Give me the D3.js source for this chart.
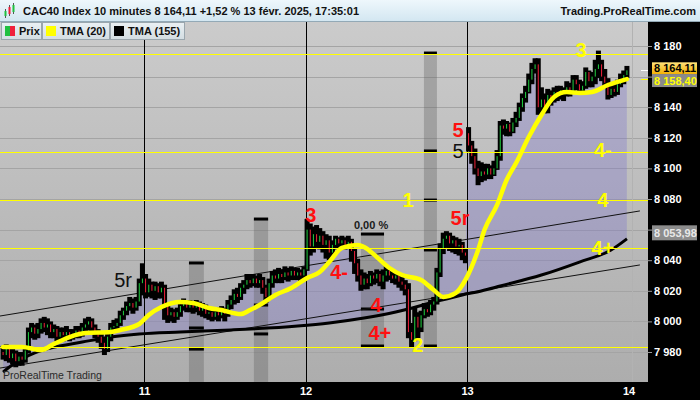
<!DOCTYPE html>
<html><head><meta charset="utf-8">
<script src="https://cdn.jsdelivr.net/npm/d3@7"></script>
<style>body{margin:0;background:#fff;}svg{display:block;font-family:"Liberation Sans",Arial,sans-serif;}</style>
</head><body><svg id="c" width="700" height="400"></svg>
<script>
// ---------- DATA ----------
const dayLabels = ["11","12","13","14"];
const dayStarts = [44.5, 95.5, 146.5, 197.5];
const opens = [
7980,7978,7982,7976,7979,7974,7977,7975,7981,7993,7996,7992,7995,7999,7996,7998,7993,7995,7990,7993,7991,7993,7990,7992,7994,7992,7996,7998,8000,7996,7993,7990,7986,7982,7990,7996,7997,7999,8004,8007,8010,8012,8009,8013,8025,
8028,8019,8024,8020,8023,8019,8022,8010,8004,8006,8003,8006,8010,8012,8009,8011,8009,8011,8007,8009,8005,8006,8003,8006,8004,8007,8005,8011,8014,8018,8016,8022,8024,8027,8025,8028,8025,8027,8022,8016,8025,8030,8028,8031,8029,8032,8030,8033,8030,8032,8030,
8034,8060,8049,8057,8052,8056,8050,8053,8045,8050,8054,8051,8053,8050,8052,8046,8038,8030,8024,8028,8025,8030,8028,8031,8026,8030,8033,8030,8028,8030,8026,8024,8021,7993,7988,8003,7996,8004,8008,8006,8011,8013,8032,8048,8054,8056,8051,8053,8049,8050,8045,
8123,8115,8108,8100,8095,8098,8096,8100,8096,8100,8108,8128,8126,8129,8124,8130,8133,8140,8146,8150,8158,8165,8168,8140,8145,8140,8148,8146,8150,8148,8151,8149,8153,8150,8158,8155,8151,8154,8163,8157,8160,8165,8168,8160,8156,8148,8152,8150,8155,8158,8161];
const closes = [
7978,7982,7976,7979,7974,7977,7975,7981,7993,7996,7992,7995,7999,7996,7998,7993,7995,7990,7993,7991,7993,7990,7992,7994,7992,7996,7998,8000,7996,7993,7990,7986,7982,7990,7996,7997,7999,8004,8007,8010,8012,8009,8013,8025,8028,
8019,8024,8020,8023,8019,8022,8010,8004,8006,8003,8006,8010,8012,8009,8011,8009,8011,8007,8009,8005,8006,8003,8006,8004,8007,8005,8011,8014,8018,8016,8022,8024,8027,8025,8028,8025,8027,8022,8016,8025,8030,8028,8031,8029,8032,8030,8033,8030,8032,8030,8034,
8060,8049,8057,8052,8056,8050,8053,8045,8050,8054,8051,8053,8050,8052,8046,8038,8030,8024,8028,8025,8030,8028,8031,8026,8030,8033,8030,8028,8030,8026,8024,8021,7993,7988,8003,7996,8004,8008,8006,8011,8013,8032,8048,8054,8056,8051,8053,8049,8050,8045,8043,
8115,8108,8100,8095,8098,8096,8100,8096,8100,8108,8128,8126,8129,8124,8130,8133,8140,8146,8150,8158,8165,8168,8140,8145,8140,8148,8146,8150,8148,8151,8149,8153,8150,8158,8155,8151,8154,8163,8157,8160,8165,8168,8160,8156,8148,8152,8150,8155,8158,8161,8164.11];
const highs = [
7983,7984,7983,7981,7980,7979,7979,7983,7995,7998,7997,7998,8001,8002,8001,7999,7997,7996,7995,7995,7996,7994,7994,7996,7996,7998,8001,8002,8001,7997,7994,7991,7988,7992,7998,8000,8001,8006,8008,8012,8015,8014,8015,8027,8037,
8030,8027,8025,8025,8024,8025,8023,8011,8008,8007,8008,8012,8014,8013,8013,8012,8013,8012,8011,8010,8008,8007,8008,8008,8009,8008,8013,8016,8020,8021,8024,8026,8030,8030,8030,8029,8030,8028,8023,8027,8032,8033,8034,8033,8035,8034,8035,8034,8034,8033,8035,
8066,8063,8061,8062,8060,8058,8056,8055,8052,8055,8054,8055,8054,8055,8053,8047,8040,8033,8031,8030,8032,8031,8033,8032,8033,8035,8034,8032,8032,8030,8028,8026,8024,7998,8008,8005,8006,8011,8010,8013,8015,8034,8050,8057,8058,8057,8055,8054,8053,8051,8047,
8126,8117,8112,8104,8103,8102,8102,8101,8104,8111,8130,8131,8130,8129,8132,8136,8142,8148,8153,8161,8168,8171,8171,8152,8148,8151,8150,8152,8153,8153,8152,8156,8155,8160,8160,8157,8156,8165,8163,8162,8170,8176,8170,8164,8158,8154,8155,8157,8161,8163,8166];
const lows = [
7976,7975,7974,7973,7971,7972,7972,7974,7980,7990,7989,7990,7993,7994,7992,7990,7990,7988,7989,7988,7990,7988,7989,7990,7990,7991,7994,7995,7993,7990,7987,7983,7979,7981,7988,7994,7995,7998,8002,8005,8008,8006,8008,8011,8018,
8016,8017,8016,8015,8016,8016,8002,8000,8001,8000,8002,8004,8008,8007,8007,8006,8007,8005,8004,8003,8002,8001,8002,8001,8003,8001,8004,8009,8012,8013,8015,8019,8022,8023,8024,8023,8023,8019,8013,8015,8023,8026,8026,8026,8028,8027,8028,8028,8028,8027,8029,
8034,8044,8046,8049,8048,8046,8042,8041,8043,8048,8049,8050,8048,8049,8040,8032,8027,8021,8022,8022,8024,8025,8026,8024,8022,8027,8028,8026,8025,8023,8021,8018,7990,7984,7990,7990,7994,8003,8004,8005,8008,8012,8030,8045,8049,8047,8046,8045,8044,8041,8039,
8112,8104,8097,8090,8092,8093,8094,8094,8097,8100,8106,8123,8122,8122,8124,8128,8132,8138,8144,8152,8156,8163,8136,8138,8137,8137,8142,8144,8145,8146,8145,8148,8148,8150,8152,8149,8149,8153,8154,8154,8156,8160,8158,8154,8146,8147,8148,8149,8154,8156,8160];

// TMA(20), read at sampled bars
const tma20Slots = [0,6,12,16,21,26,34,37,43,46,50,56,60,65,69,75,78,81,86,91,96,100,103,107,112,114,118,122,126,132,136,139,143,146,150,152,156,159,162,166,170,174,178,182,186,191,197];
const tma20Vals  = [7983.3,7983.3,7981.3,7985.2,7989.8,7992.4,7993.1,7994.4,7998.3,8004.2,8009.4,8012.7,8012,8008.8,8007.4,8004.8,8007.4,8010.7,8017.3,8021.8,8028.4,8032.3,8038.8,8048,8050,8048.6,8042.1,8034.9,8030.3,8027.1,8020.5,8016,8018.6,8027.1,8046.7,8059.7,8076.1,8092.4,8103.5,8120.5,8134.9,8146.7,8149.9,8149.3,8149.9,8154.5,8158.4];
// TMA(155)
const tma155Slots = [0,2,10,15,25,34,43,56,72,93,103,114,124,135,145,151,157,170,182,192,197];
const tma155Vals  = [7966.9,7970.2,7979.4,7982.6,7986.5,7989.8,7991.8,7993.1,7994.4,7997,7999,8002.2,8006.1,8012,8017.3,8019.9,8023.1,8030.3,8038.8,8046.7,8053.98];

// horizontal levels
const levelVals = [8174.8, 8110.7, 8079.3, 8048.0, 7983.3];
// trend lines [slot0, value0, slot1, value1]
const trendLines = [[-1, 8003.5, 201.1, 8072.2], [-1, 7969.5, 201.1, 8036.9]];
// grey time bands
const bandStart = [58.7, 79.2, 113.0, 132.9];
const bandEnd   = [63.4, 83.7, 120.3, 137.0];
const bandTop   = [8038.2, 8066.9, 8057.1, 8175.4];
const bandBottom= [7960, 7960, 7983.9, 7983.9];
const bandMarks = [[8038.2,7995.7,7981.9],[8066.9,8010.7,7991.8],[8057.1,8008.1,7983.9],[8175.4,8111.4,8079.3,8046.7,7983.9]];
// annotations
const annText  = ["5r","3","4-","4","4+","2","1","5r","0,00 %","5","5","3","4-","4","4+"];
const annSlot  = [37.9,97.2,106.1,117.8,119.0,131.0,127.9,144.3,116.2,143.7,143.7,182.5,189.4,189.4,189.4];
const annVal   = [8027.1,8069.5,8032.3,8010.7,7992.4,7984.6,8079.3,8067.6,8063,8125.5,8111.5,8177.4,8112,8079.3,8048];
const annKind  = ["k","r","r","r","r","y","y","r","s","r","k","y","y","y","y"];
const yTicks = [7980,8000,8020,8040,8060,8080,8100,8120,8140,8160,8180];
const yTicksHidden = [8160];
const lastPrice = 8164.11, lastTma20 = 8158.40, lastTma155 = 8053.98;

// ---------- CHART ----------
const svg = d3.select("#c");
const plotTop = 22, plotBottom = 382, plotRight = 648;
const x = d3.scaleLinear().domain([44.5,146.5]).range([144,467]);
const y = d3.scaleLinear().domain([7980,8180]).range([352,46]);
const fr = d3.formatLocale({decimal:",",thousands:" ",grouping:[3],currency:["",""]});
const fInt = fr.format(",d"), fDec = fr.format(",.2f");

const defs = svg.append("defs");
const g1 = defs.append("linearGradient").attr("id","bg").attr("x1",0).attr("y1",0).attr("x2",0).attr("y2",1);
g1.append("stop").attr("offset","0%").attr("stop-color","#cbcbcb");
g1.append("stop").attr("offset","100%").attr("stop-color","#adadad");
const g2 = defs.append("linearGradient").attr("id","hd").attr("x1",0).attr("y1",0).attr("x2",0).attr("y2",1);
g2.append("stop").attr("offset","0%").attr("stop-color","#eef7fc");
g2.append("stop").attr("offset","100%").attr("stop-color","#d2e6f1");
const g3 = defs.append("linearGradient").attr("id","lg").attr("x1",0).attr("y1",0).attr("x2",0).attr("y2",1);
g3.append("stop").attr("offset","0%").attr("stop-color","#eaf0f3");
g3.append("stop").attr("offset","100%").attr("stop-color","#d3dde2");
const g4 = defs.append("linearGradient").attr("id","gold").attr("x1",0).attr("y1",0).attr("x2",0).attr("y2",1);
g4.append("stop").attr("offset","0%").attr("stop-color","#ffe27a");
g4.append("stop").attr("offset","100%").attr("stop-color","#f2b000");
defs.append("clipPath").attr("id","plotClip").append("rect")
  .attr("x",0).attr("y",plotTop).attr("width",plotRight).attr("height",plotBottom-plotTop);

const tma155Pts = tma155Slots.map((s,i)=>[s,tma155Vals[i]]);
const tma20Pts = tma20Slots.map((s,i)=>[s,tma20Vals[i]]);
defs.append("clipPath").attr("id","aboveSlow").append("path")
  .attr("d", d3.area().x(d=>x(d[0])).y0(plotTop).y1(d=>y(d[1])).curve(d3.curveMonotoneX)(tma155Pts));

// background
svg.append("rect").attr("x",0).attr("y",plotTop).attr("width",plotRight).attr("height",plotBottom-plotTop).attr("fill","url(#bg)");

const plot = svg.append("g").attr("clip-path","url(#plotClip)");
// grid
plot.selectAll(".grid").data(yTicks).join("line")
  .attr("x1",0).attr("x2",plotRight).attr("y1",d=>Math.round(y(d))+0.5).attr("y2",d=>Math.round(y(d))+0.5)
  .attr("stroke","#a4a4a4").attr("stroke-width",1);
plot.append("line").attr("x1",632.5).attr("x2",632.5).attr("y1",plotTop).attr("y2",plotBottom).attr("stroke","#b2b2b2");

// fill between close and TMA155
const idx = d3.range(closes.length);
plot.append("g").attr("clip-path","url(#aboveSlow)").append("path")
  .attr("d", d3.area().x(i=>x(i)).y0(plotBottom).y1(i=>y(closes[i]))(idx))
  .attr("fill","rgba(122,112,205,0.32)");

// bands
bandStart.forEach((s,i)=>{
  const x0 = x(s), x1 = x(bandEnd[i]);
  plot.append("rect").attr("x",x0).attr("width",x1-x0)
    .attr("y",y(bandTop[i])).attr("height",y(bandBottom[i])-y(bandTop[i]))
    .attr("fill","rgba(95,95,95,0.34)");
  plot.selectAll(null).data(bandMarks[i]).join("rect")
    .attr("x",x0).attr("width",x1-x0).attr("y",d=>y(d)-1.5).attr("height",3).attr("fill","#000");
});

// day separators
plot.selectAll(".day").data(dayStarts.slice(0,3)).join("line")
  .attr("x1",d=>Math.round(x(d))+0.5).attr("x2",d=>Math.round(x(d))+0.5)
  .attr("y1",plotTop).attr("y2",plotBottom).attr("stroke","#000");

// trend lines
plot.selectAll(".tl").data(trendLines).join("line")
  .attr("x1",d=>x(d[0])).attr("y1",d=>y(d[1])).attr("x2",d=>x(d[2])).attr("y2",d=>y(d[3]))
  .attr("stroke","#111").attr("stroke-width",1);

// TMA155
plot.append("path").attr("d", d3.line().x(d=>x(d[0])).y(d=>y(d[1])).curve(d3.curveMonotoneX)(tma155Pts))
  .attr("fill","none").attr("stroke","#000").attr("stroke-width",3);

// candles
const cg = plot.append("g");
idx.forEach(i=>{
  const o=opens[i], c=closes[i];
  const hi=Math.max(highs[i],o,c), lo=Math.min(lows[i],o,c);
  const cx = x(i);
  cg.append("rect").attr("x",cx-2.5).attr("width",5).attr("y",y(hi)-1.5).attr("height",y(lo)-y(hi)+3).attr("fill","#000");
});
idx.forEach(i=>{
  const o=opens[i], c=closes[i];
  const top=y(Math.max(o,c)), bot=y(Math.min(o,c));
  if (bot-top < 1.5) return;
  cg.append("rect").attr("x",x(i)-0.5).attr("width",1).attr("y",top).attr("height",bot-top)
    .attr("fill", c>=o ? "#20d040" : "#f0203a");
});

// horizontal levels
plot.selectAll(".lvl").data(levelVals).join("line")
  .attr("x1",0).attr("x2",plotRight).attr("y1",d=>Math.round(y(d))+0.5).attr("y2",d=>Math.round(y(d))+0.5)
  .attr("stroke","#ffff00").attr("stroke-width",1.2);

// TMA20
plot.append("path").attr("d", d3.line().x(d=>x(d[0])).y(d=>y(d[1])).curve(d3.curveMonotoneX)(tma20Pts))
  .attr("fill","none").attr("stroke","#ffff00").attr("stroke-width",4.5).attr("stroke-linecap","round");

// annotations
const colors = {k:"#111", r:"#ff1010", y:"#ffff00", s:"#1a1a1a"};
annText.forEach((t,i)=>{
  const k = annKind[i];
  plot.append("text").attr("x",x(annSlot[i])).attr("y",y(annVal[i])).attr("dy","0.36em")
    .attr("text-anchor","middle").attr("fill",colors[k])
    .attr("font-size", k==="s" ? 11 : 20)
    .attr("font-weight", k==="k" ? "normal" : "bold")
    .text(t);
});

plot.append("text").attr("x",3).attr("y",379).attr("font-size",10.5).attr("fill","#2a2a2a").text("ProRealTime Trading");

// right axis
svg.append("rect").attr("x",plotRight).attr("y",plotTop).attr("width",700-plotRight).attr("height",400-plotTop).attr("fill","#000");
const ra = svg.append("g").attr("transform",`translate(${plotRight},0)`)
  .call(d3.axisRight(y).tickValues(yTicks).tickFormat(d => yTicksHidden.includes(d) ? "" : fInt(d)).tickSize(4).tickPadding(2));
ra.select(".domain").remove();
ra.selectAll(".tick line").attr("stroke","#9a9a9a");
ra.selectAll(".tick text").attr("fill","#fff").attr("font-size",11).attr("font-weight","bold").attr("font-family",'"Liberation Sans",Arial,sans-serif');

// price boxes
function priceBox(v, dyCenter, fill, txt, h){
  const cy = y(v)+dyCenter;
  svg.append("rect").attr("x",652).attr("y",cy-h/2).attr("width",45).attr("height",h).attr("fill",fill);
  svg.append("text").attr("x",654).attr("y",cy).attr("dy","0.36em").attr("fill",txt)
    .attr("font-size",11).attr("font-weight","bold").text(fDec(v));
}
svg.append("line").attr("x1",641).attr("x2",plotRight).attr("y1",Math.round(y(lastPrice))+0.5).attr("y2",Math.round(y(lastPrice))+0.5).attr("stroke","#fff");
svg.append("line").attr("x1",641).attr("x2",plotRight).attr("y1",Math.round(y(lastTma20))+0.5).attr("y2",Math.round(y(lastTma20))+0.5).attr("stroke","#ffff00");
priceBox(lastPrice, -2, "url(#gold)", "#000", 12);
priceBox(lastTma20, 1.5, "#8a8a8a", "#ffff00", 13);
priceBox(lastTma155, -6, "#8c8c8c", "#e8e8e8", 15);

// bottom axis
svg.append("rect").attr("x",0).attr("y",plotBottom).attr("width",700).attr("height",400-plotBottom).attr("fill","#000");
const ba = svg.append("g").attr("transform",`translate(0,${plotBottom})`)
  .call(d3.axisBottom(x).tickValues(dayStarts).tickFormat((d,i)=>dayLabels[i]).tickSize(0).tickPadding(5));
ba.select(".domain").remove();
ba.selectAll(".tick text").attr("fill","#fff").attr("font-size",11).attr("font-weight","bold").attr("font-family",'"Liberation Sans",Arial,sans-serif');

// header
svg.append("rect").attr("x",0).attr("y",0).attr("width",700).attr("height",plotTop).attr("fill","url(#hd)");
svg.append("line").attr("x1",0).attr("x2",700).attr("y1",21.5).attr("y2",21.5).attr("stroke","#93a9b6");
const icon = svg.append("g");
[[5,9,16,"#20c040"],[9,5,14,"#f0203a"],[13,3,12,"#20c040"]].forEach(b=>{
  icon.append("line").attr("x1",b[0]+0.5).attr("x2",b[0]+0.5).attr("y1",b[1]).attr("y2",b[2]+2).attr("stroke","#555");
  icon.append("rect").attr("x",b[0]-0.5).attr("y",b[1]+2).attr("width",2).attr("height",b[2]-b[1]-2).attr("fill",b[3]);
});
svg.append("text").attr("x",23).attr("y",15).attr("font-size",11).attr("font-weight","bold").attr("fill","#111")
  .text("CAC40 Index 10 minutes 8 164,11 +1,52 % 13 févr. 2025, 17:35:01");
svg.append("text").attr("x",696).attr("y",15).attr("text-anchor","end").attr("font-size",11).attr("font-weight","bold").attr("fill","#111")
  .text("Trading.ProRealTime.com");

// legend
const leg = [
  {x:1,w:40,label:"Prix",sw:["#20c040","#f0203a"]},
  {x:42,w:67,label:"TMA (20)",sw:["#ffff00"]},
  {x:110,w:74,label:"TMA (155)",sw:["#000"]}
];
leg.forEach(l=>{
  svg.append("rect").attr("x",l.x+0.5).attr("y",22.5).attr("width",l.w).attr("height",17).attr("fill","url(#lg)").attr("stroke","#9aa6ad");
  if (l.sw.length===2){
    svg.append("rect").attr("x",l.x+4).attr("y",26).attr("width",5).attr("height",10).attr("fill",l.sw[0]);
    svg.append("rect").attr("x",l.x+9).attr("y",26).attr("width",5).attr("height",10).attr("fill",l.sw[1]);
  } else {
    svg.append("rect").attr("x",l.x+4).attr("y",26).attr("width",10).attr("height",10).attr("fill",l.sw[0]);
  }
  svg.append("text").attr("x",l.x+18).attr("y",35).attr("font-size",11).attr("font-weight","bold").attr("fill","#111").text(l.label);
});
</script></body></html>
